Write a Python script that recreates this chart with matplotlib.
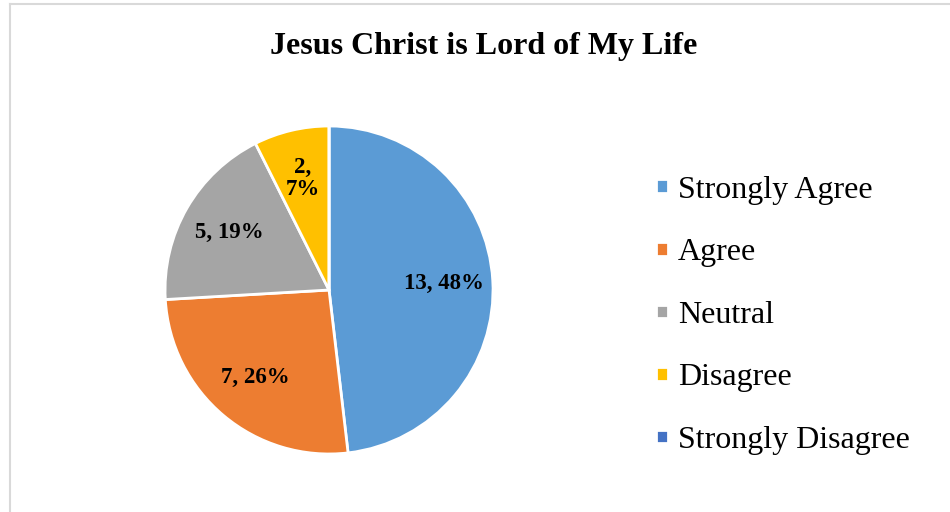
import numpy as np
import matplotlib
matplotlib.use('Agg')
import matplotlib.pyplot as plt
from matplotlib.lines import Line2D

plt.rcParams['font.family'] = ['Liberation Serif', 'DejaVu Serif']

#---    Data
categories = ['Strongly Agree', 'Agree', 'Neutral', 'Disagree', 'Strongly Disagree']
counts = [13, 7, 5, 2, 0]
colors = ['#5B9BD5', '#ED7D31', '#A5A5A5', '#FFC000', '#4472C4']
slice_labels = ['13, 48%', '7, 26%', '5, 19%', '2,\n7%', '']

#---    Figure
fig = plt.figure(figsize=(9.5, 5.12), dpi=100)
ax = fig.add_axes([0.1737, 0.1133, 0.3453, 0.6406])

wedges, _ = ax.pie(counts, colors=colors, startangle=90, counterclock=False,
                   wedgeprops=dict(edgecolor='white', linewidth=2))
ax.set_aspect('equal')
ax.set_xlim(-1, 1)
ax.set_ylim(-1, 1)

for w, lab in zip(wedges, slice_labels):
    if not lab:
        continue
    ang = np.deg2rad((w.theta1 + w.theta2) / 2)
    r = 0.7 * w.r
    ax.text(r * np.cos(ang), r * np.sin(ang), lab, ha='center', va='center',
            fontsize=16.5, fontweight='bold', linespacing=1.1)

fig.text(0.509, 0.91, 'Jesus Christ is Lord of My Life', ha='center', va='center',
         fontsize=23, fontweight='bold')

fig.legend(wedges, categories, loc='center left', bbox_to_anchor=(0.69, 0.384),
           frameon=False, fontsize=23, handlelength=0.4, handleheight=0.28,
           handletextpad=0.3, labelspacing=1.05, borderpad=0, borderaxespad=0)

#---    Chart border (only top and left visible)
fig.add_artist(Line2D([9.5 / 950, 1], [1 - 3.5 / 512, 1 - 3.5 / 512], transform=fig.transFigure,
                      color='#D9D9D9', linewidth=1.5))
fig.add_artist(Line2D([9.5 / 950, 9.5 / 950], [0, 1 - 3.5 / 512], transform=fig.transFigure,
                      color='#D9D9D9', linewidth=1.5))

plt.savefig('out.png', dpi=100)
